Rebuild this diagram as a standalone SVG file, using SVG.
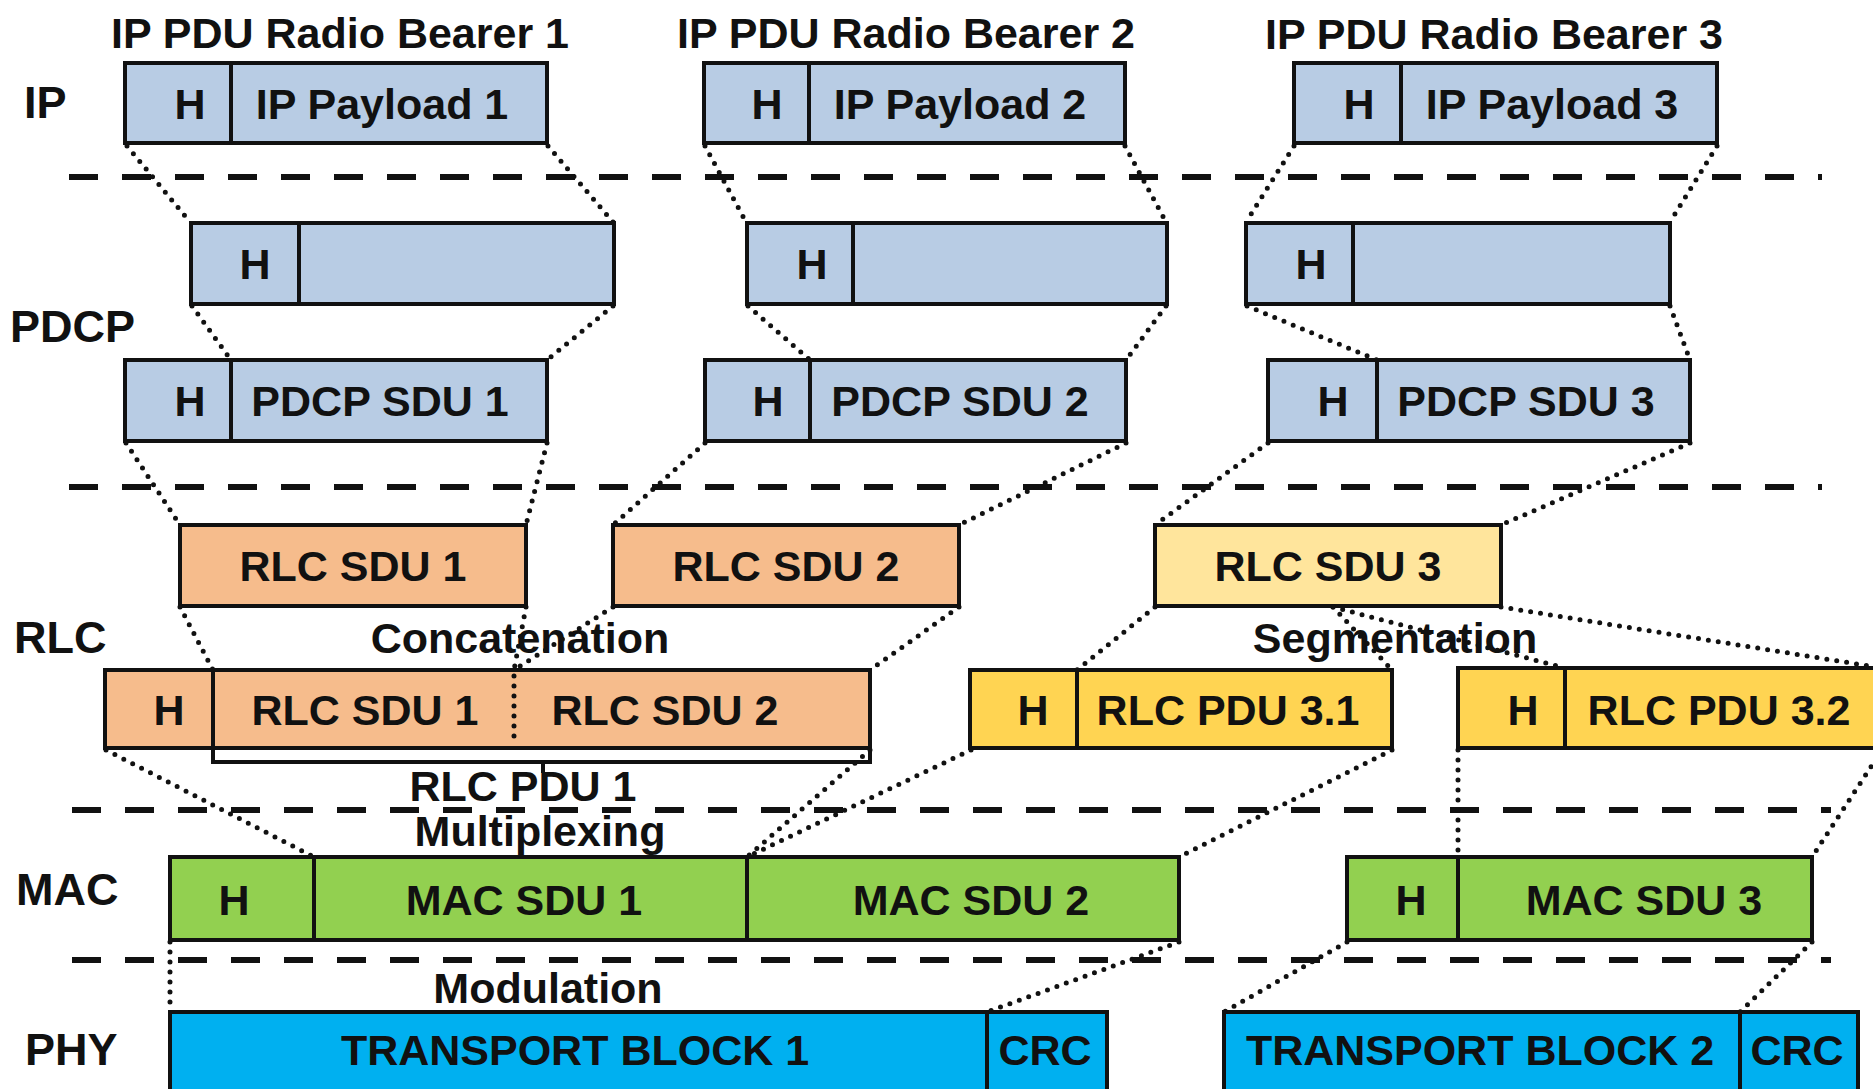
<svg xmlns="http://www.w3.org/2000/svg" width="1873" height="1089" viewBox="0 0 1873 1089">
  <style>
    .box{stroke:#111;stroke-width:4}
    .ip{fill:#b8cce4}
    .rlc{fill:#f6bc8c}
    .rlc3{fill:#ffe59c}
    .pdu3{fill:#ffd452}
    .mac{fill:#92d050}
    .phy{fill:#00b0f0}
    .div{stroke:#111;stroke-width:4}
    .dotdiv{stroke:#111;stroke-width:5;stroke-linecap:round;stroke-dasharray:0 10}
    text{font-family:"Liberation Sans",Arial,sans-serif;font-weight:bold;font-size:43px;fill:#111;text-anchor:middle}
    .lbl{font-size:45px;text-anchor:start}
    .sep{stroke:#111;stroke-width:6;stroke-dasharray:29 24;fill:none}
    .dot{stroke:#111;stroke-width:5;stroke-linecap:round;stroke-dasharray:0 10;fill:none}
    .brk{stroke:#111;stroke-width:4;fill:none}
  </style>
  <rect width="1873" height="1089" fill="#fff"/>

  <!-- layer separators -->
  <g id="separators">
    <line class="sep" x1="69" y1="177" x2="1822" y2="177"/>
    <line class="sep" x1="69" y1="487" x2="1822" y2="487"/>
    <line class="sep" x1="72" y1="810" x2="1831" y2="810"/>
    <line class="sep" x1="72" y1="960" x2="1831" y2="960"/>
  </g>

  <!-- layer names -->
  <g id="layers">
    <text class="lbl" x="24" y="118">IP</text>
    <text class="lbl" x="10" y="342">PDCP</text>
    <text class="lbl" x="14" y="653">RLC</text>
    <text class="lbl" x="16" y="905">MAC</text>
    <text class="lbl" x="25" y="1065">PHY</text>
  </g>

  <!-- bearer titles -->
  <g id="titles">
    <text x="340" y="48" font-size="44">IP PDU Radio Bearer 1</text>
    <text x="906" y="48" font-size="44">IP PDU Radio Bearer 2</text>
    <text x="1494" y="49" font-size="44">IP PDU Radio Bearer 3</text>
  </g>

  <!-- IP layer -->
  <g id="ip1">
    <rect class="box ip" x="125" y="63" width="422" height="80"/>
    <line class="div" x1="231" y1="63" x2="231" y2="143"/>
    <text x="190" y="119">H</text>
    <text x="382" y="119">IP Payload 1</text>
  </g>
  <g id="ip2">
    <rect class="box ip" x="704" y="63" width="421" height="80"/>
    <line class="div" x1="809" y1="63" x2="809" y2="143"/>
    <text x="767" y="119">H</text>
    <text x="960" y="119">IP Payload 2</text>
  </g>
  <g id="ip3">
    <rect class="box ip" x="1294" y="63" width="423" height="80"/>
    <line class="div" x1="1401" y1="63" x2="1401" y2="143"/>
    <text x="1359" y="119">H</text>
    <text x="1552" y="119">IP Payload 3</text>
  </g>

  <!-- PDCP layer: header added -->
  <g id="pdcp-a1">
    <rect class="box ip" x="191" y="223" width="423" height="81"/>
    <line class="div" x1="299" y1="223" x2="299" y2="304"/>
    <text x="255" y="279">H</text>
  </g>
  <g id="pdcp-a2">
    <rect class="box ip" x="747" y="223" width="420" height="81"/>
    <line class="div" x1="853" y1="223" x2="853" y2="304"/>
    <text x="812" y="279">H</text>
  </g>
  <g id="pdcp-a3">
    <rect class="box ip" x="1246" y="223" width="424" height="81"/>
    <line class="div" x1="1353" y1="223" x2="1353" y2="304"/>
    <text x="1311" y="279">H</text>
  </g>

  <!-- PDCP layer: SDUs -->
  <g id="pdcp-sdu1">
    <rect class="box ip" x="125" y="360" width="422" height="81"/>
    <line class="div" x1="231" y1="360" x2="231" y2="441"/>
    <text x="190" y="416">H</text>
    <text x="380" y="416">PDCP SDU 1</text>
  </g>
  <g id="pdcp-sdu2">
    <rect class="box ip" x="705" y="360" width="421" height="81"/>
    <line class="div" x1="810" y1="360" x2="810" y2="441"/>
    <text x="768" y="416">H</text>
    <text x="960" y="416">PDCP SDU 2</text>
  </g>
  <g id="pdcp-sdu3">
    <rect class="box ip" x="1268" y="360" width="422" height="81"/>
    <line class="div" x1="1377" y1="360" x2="1377" y2="441"/>
    <text x="1333" y="416">H</text>
    <text x="1526" y="416">PDCP SDU 3</text>
  </g>

  <!-- RLC layer: SDUs -->
  <g id="rlc-sdu1">
    <rect class="box rlc" x="180" y="525" width="346" height="81"/>
    <text x="353" y="581">RLC SDU 1</text>
  </g>
  <g id="rlc-sdu2">
    <rect class="box rlc" x="613" y="525" width="346" height="81"/>
    <text x="786" y="581">RLC SDU 2</text>
  </g>
  <g id="rlc-sdu3">
    <rect class="box rlc3" x="1155" y="525" width="346" height="81"/>
    <text x="1328" y="581">RLC SDU 3</text>
  </g>

  <!-- RLC operations -->
  <g id="rlc-ops">
    <text x="520" y="653">Concatenation</text>
    <text x="1395" y="653">Segmentation</text>
  </g>

  <!-- RLC layer: PDUs -->
  <g id="rlc-pdu1">
    <rect class="box rlc" x="105" y="670" width="765" height="78"/>
    <line class="div" x1="213" y1="670" x2="213" y2="748"/>
    <line class="dotdiv" x1="514" y1="676" x2="514" y2="744"/>
    <text x="169" y="725">H</text>
    <text x="365" y="725">RLC SDU 1</text>
    <text x="665" y="725">RLC SDU 2</text>
    <path class="brk" d="M213 748 V762 H870 V748 M543 762 V773"/>
    <text x="523" y="801" font-size="42">RLC PDU 1</text>
  </g>
  <g id="rlc-pdu31">
    <rect class="box pdu3" x="970" y="670" width="422" height="78"/>
    <line class="div" x1="1077" y1="670" x2="1077" y2="748"/>
    <text x="1033" y="725">H</text>
    <text x="1228" y="725">RLC PDU 3.1</text>
  </g>
  <g id="rlc-pdu32">
    <rect class="box pdu3" x="1458" y="668" width="424" height="80"/>
    <line class="div" x1="1565" y1="668" x2="1565" y2="748"/>
    <text x="1523" y="725">H</text>
    <text x="1719" y="725">RLC PDU 3.2</text>
  </g>

  <!-- MAC layer -->
  <text x="540" y="846">Multiplexing</text>
  <g id="mac-pdu1">
    <rect class="box mac" x="170" y="857" width="1009" height="83"/>
    <line class="div" x1="314" y1="857" x2="314" y2="940"/>
    <line class="div" x1="747" y1="857" x2="747" y2="940"/>
    <text x="234" y="915">H</text>
    <text x="524" y="915">MAC SDU 1</text>
    <text x="971" y="915">MAC SDU 2</text>
  </g>
  <g id="mac-pdu2">
    <rect class="box mac" x="1347" y="857" width="465" height="83"/>
    <line class="div" x1="1458" y1="857" x2="1458" y2="940"/>
    <text x="1411" y="915">H</text>
    <text x="1644" y="915">MAC SDU 3</text>
  </g>

  <!-- PHY layer -->
  <text x="548" y="1003">Modulation</text>
  <g id="tb1">
    <rect class="box phy" x="170" y="1012" width="937" height="100"/>
    <line class="div" x1="987" y1="1012" x2="987" y2="1112"/>
    <text x="575" y="1065">TRANSPORT BLOCK 1</text>
    <text x="1045" y="1065">CRC</text>
  </g>
  <g id="tb2">
    <rect class="box phy" x="1224" y="1012" width="634" height="100"/>
    <line class="div" x1="1740" y1="1012" x2="1740" y2="1112"/>
    <text x="1480" y="1065">TRANSPORT BLOCK 2</text>
    <text x="1797" y="1065">CRC</text>
  </g>

  <!-- dotted mapping connectors between layers -->
  <g id="connectors" class="dot">
    <!-- IP to PDCP -->
    <line x1="127" y1="146" x2="190" y2="222"/>
    <line x1="548" y1="146" x2="613" y2="222"/>
    <line x1="705" y1="146" x2="746" y2="222"/>
    <line x1="1125" y1="146" x2="1166" y2="222"/>
    <line x1="1294" y1="146" x2="1246" y2="222"/>
    <line x1="1717" y1="146" x2="1670" y2="222"/>
    <!-- PDCP header to PDCP SDU -->
    <line x1="192" y1="306" x2="231" y2="360"/>
    <line x1="613" y1="306" x2="547" y2="360"/>
    <line x1="748" y1="306" x2="810" y2="360"/>
    <line x1="1166" y1="306" x2="1126" y2="360"/>
    <line x1="1247" y1="306" x2="1377" y2="360"/>
    <line x1="1670" y1="306" x2="1690" y2="360"/>
    <!-- PDCP to RLC SDU -->
    <line x1="126" y1="443" x2="180" y2="525"/>
    <line x1="547" y1="443" x2="526" y2="525"/>
    <line x1="705" y1="443" x2="613" y2="525"/>
    <line x1="1126" y1="443" x2="959" y2="525"/>
    <line x1="1268" y1="443" x2="1155" y2="525"/>
    <line x1="1690" y1="443" x2="1501" y2="525"/>
    <!-- RLC SDU to RLC PDU -->
    <line x1="180" y1="607" x2="213" y2="670"/>
    <line x1="526" y1="607" x2="514" y2="670"/>
    <line x1="613" y1="607" x2="514" y2="670"/>
    <line x1="959" y1="607" x2="870" y2="670"/>
    <line x1="1155" y1="607" x2="1077" y2="670"/>
    <line x1="1333" y1="607" x2="1392" y2="670"/>
    <line x1="1333" y1="607" x2="1565" y2="668"/>
    <line x1="1501" y1="607" x2="1882" y2="668"/>
    <!-- RLC PDU to MAC -->
    <line x1="106" y1="750" x2="314" y2="857"/>
    <line x1="870" y1="750" x2="747" y2="857"/>
    <line x1="971" y1="750" x2="747" y2="857"/>
    <line x1="1392" y1="750" x2="1179" y2="857"/>
    <line x1="1458" y1="750" x2="1458" y2="857"/>
    <line x1="1882" y1="750" x2="1812" y2="857"/>
    <!-- MAC to PHY -->
    <line x1="170" y1="942" x2="170" y2="1012"/>
    <line x1="1179" y1="942" x2="987" y2="1012"/>
    <line x1="1347" y1="942" x2="1224" y2="1012"/>
    <line x1="1812" y1="942" x2="1740" y2="1012"/>
  </g>
</svg>
